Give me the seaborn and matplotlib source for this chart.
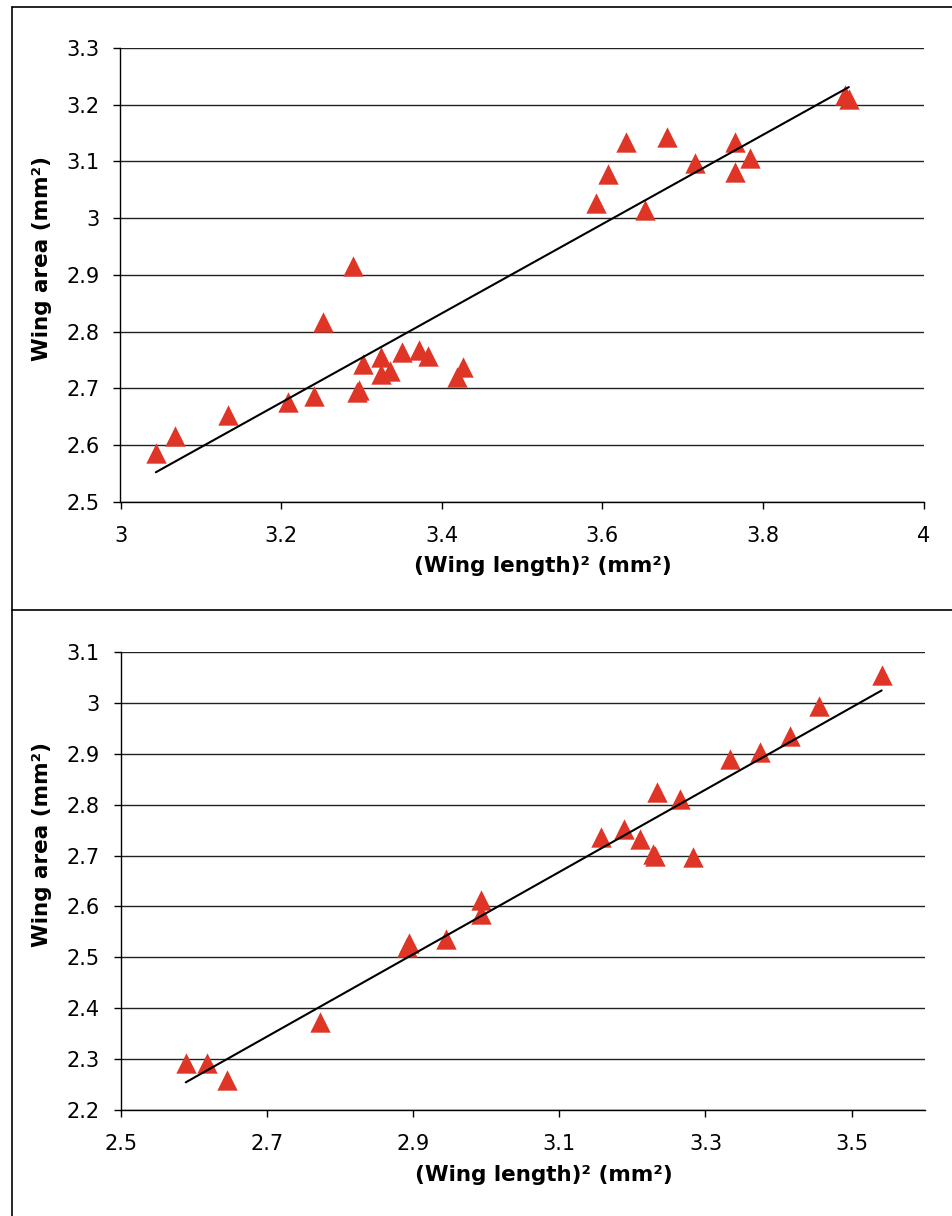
import numpy as np
import pandas as pd
import matplotlib
matplotlib.use("Agg")
import matplotlib.pyplot as plt
from matplotlib.lines import Line2D
import seaborn as sns

# data
top_x = [3.044, 3.068, 3.134, 3.209, 3.241, 3.252, 3.289, 3.294, 3.297, 3.302,
         3.324, 3.325, 3.335, 3.350, 3.372, 3.383, 3.419, 3.427, 3.592, 3.607,
         3.630, 3.653, 3.680, 3.715, 3.765, 3.765, 3.784, 3.902, 3.907]
top_y = [2.586, 2.616, 2.653, 2.677, 2.687, 2.818, 2.915, 2.694, 2.697, 2.743,
         2.756, 2.725, 2.730, 2.765, 2.768, 2.757, 2.721, 2.738, 3.026, 3.078,
         3.135, 3.015, 3.144, 3.097, 3.135, 3.082, 3.106, 3.217, 3.210]

bot_x = [2.589, 2.618, 2.645, 2.773, 2.891, 2.895, 2.945, 2.993, 2.993, 3.157,
         3.189, 3.210, 3.228, 3.231, 3.233, 3.265, 3.283, 3.334, 3.374, 3.415,
         3.455, 3.541]
bot_y = [2.292, 2.292, 2.259, 2.373, 2.520, 2.528, 2.537, 2.613, 2.586, 2.737,
         2.753, 2.732, 2.704, 2.699, 2.825, 2.812, 2.698, 2.889, 2.904, 2.935,
         2.993, 3.055]

top_xticks = [3, 3.2, 3.4, 3.6, 3.8, 4]
top_yticks = [2.5, 2.6, 2.7, 2.8, 2.9, 3, 3.1, 3.2, 3.3]
bot_xticks = [2.5, 2.7, 2.9, 3.1, 3.3, 3.5]
bot_yticks = [2.2, 2.3, 2.4, 2.5, 2.6, 2.7, 2.8, 2.9, 3, 3.1]

xlab = "(Wing length)² (mm²)"
ylab = "Wing area (mm²)"

sns.set_style("white")
plt.rcParams["font.family"] = ["DejaVu Sans"]
plt.rcParams["text.color"] = "black"
plt.rcParams["axes.labelcolor"] = "black"
plt.rcParams["xtick.color"] = "black"
plt.rcParams["ytick.color"] = "black"

W, H = 953, 1216
fig = plt.figure(figsize=(W / 100, H / 100), dpi=100)

red = "#DF3526"


def panel(rect, xs, ys, xlim, ylim, xticks, yticks, xlab_y, ylab_x, ylab_y):
    l, t, r, b = rect
    ax = fig.add_axes([l / W, 1 - b / H, (r - l) / W, (b - t) / H])
    df = pd.DataFrame({"x": xs, "y": ys})
    sns.scatterplot(data=df, x="x", y="y", marker="^", s=215, color=red,
                    linewidth=0, ax=ax, zorder=3)
    sns.regplot(data=df, x="x", y="y", scatter=False, ci=None, truncate=True,
                ax=ax, line_kws={"color": "black", "lw": 1.5, "zorder": 4})
    ax.set_xlim(xlim)
    ax.set_ylim(ylim)
    ax.set_xticks(xticks)
    ax.set_yticks(yticks)
    ax.set_xticklabels([f"{v:g}" for v in xticks])
    ax.set_yticklabels([f"{v:g}" for v in yticks])
    for v in yticks:
        ax.axhline(v, color="#222222", lw=1.0, zorder=1)
    for s in ["top", "right"]:
        ax.spines[s].set_visible(False)
    for s in ["left", "bottom"]:
        ax.spines[s].set_color("black")
        ax.spines[s].set_linewidth(1.0)
    ax.tick_params(axis="both", direction="out", length=5, width=1.0,
                   color="black", labelcolor="black", labelsize=15,
                   left=True, bottom=True)
    ax.tick_params(axis="x", pad=12)
    ax.tick_params(axis="y", pad=10)
    ax.set_xlabel(xlab, fontsize=15.5, fontweight="bold", color="black")
    ax.set_ylabel(ylab, fontsize=15.5, fontweight="bold", color="black")
    ax.xaxis.set_label_coords(0.526, xlab_y)
    ax.yaxis.set_label_coords(ylab_x, ylab_y)
    ax.set_facecolor("white")
    return ax


panel((120.5, 48, 923.5, 502), top_x, top_y, (3, 4), (2.5, 3.3),
      top_xticks, top_yticks, -0.118, -0.085, 0.537)
panel((120.7, 652, 924.8, 1110), bot_x, bot_y, (2.5, 3.6), (2.2, 3.1),
      bot_xticks, bot_yticks, -0.121, -0.085, 0.579)

# outer frame lines of the two chart boxes
fig.add_artist(Line2D([12 / W, 12 / W], [0, 1 - 7 / H], color="black", lw=1.2,
                      transform=fig.transFigure))
fig.add_artist(Line2D([12 / W, 1], [1 - 7 / H, 1 - 7 / H], color="black", lw=1.2,
                      transform=fig.transFigure))
fig.add_artist(Line2D([12 / W, 1], [1 - 610 / H, 1 - 610 / H], color="black", lw=1.2,
                      transform=fig.transFigure))

fig.savefig("out.png", dpi=100, facecolor="white")
